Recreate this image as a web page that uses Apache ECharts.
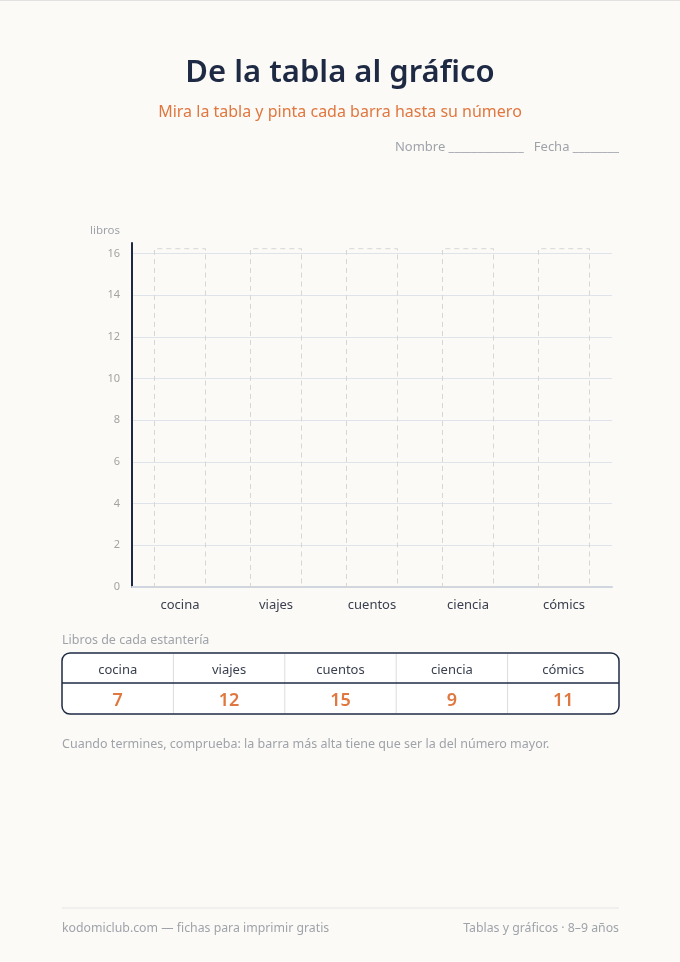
<!DOCTYPE html>
<html>
<head>
<meta charset="utf-8">
<script src="https://cdn.jsdelivr.net/npm/echarts@6/dist/echarts.min.js"></script>
<style>
html,body{margin:0;padding:0;background:#fcfaf6;}
#chart{width:680px;height:962px;}
</style>
</head>
<body>
<div id="chart"></div>
<script>
// ---- data ----
var categories = ['cocina', 'viajes', 'cuentos', 'ciencia', 'cómics'];
var tableValues = [7, 12, 15, 9, 11];
var outlineTop = [16.25, 16.25, 16.25, 16.25, 16.25]; // empty dashed bars to be coloured
var yTicks = [0, 2, 4, 6, 8, 10, 12, 14, 16];
var yMax = 16.5;

var FONT = '"Noto Sans", "Open Sans", sans-serif';
var DARK = '#1e2a44';
var ORANGE = '#e0773f';
var GREY = '#9ea3aa';

var chart = echarts.init(document.getElementById('chart'), null, {renderer: 'canvas'});

// table graphics
var tblX = 62, tblY = 653, tblW = 557, tblH = 61, hdrH = 30;
var colW = tblW / categories.length;
var graphics = [];
graphics.push({type:'rect', shape:{x:tblX, y:tblY, width:tblW, height:tblH, r:8},
  style:{fill:'#ffffff', stroke:DARK, lineWidth:1.5}, z:10});
for (var i = 1; i < categories.length; i++) {
  graphics.push({type:'line', shape:{x1:tblX + colW*i, y1:tblY+1, x2:tblX + colW*i, y2:tblY+tblH-1},
    style:{stroke:'#dcdcdc', lineWidth:1}, z:11});
}
graphics.push({type:'line', shape:{x1:tblX, y1:tblY+hdrH, x2:tblX+tblW, y2:tblY+hdrH},
  style:{stroke:DARK, lineWidth:1.5}, z:12});
categories.forEach(function(c, i){
  graphics.push({type:'text', x: tblX + colW*(i+0.5), y: tblY + hdrH/2 + 2, z:13,
    style:{text:c, fill:'#3a4050', font:'13px ' + FONT, align:'center', verticalAlign:'middle'}});
  graphics.push({type:'text', x: tblX + colW*(i+0.5), y: tblY + hdrH + (tblH-hdrH)/2 + 2, z:13,
    style:{text:String(tableValues[i]), fill:ORANGE, font:'600 18px ' + FONT, align:'center', verticalAlign:'middle'}});
});
// texts
graphics.push({type:'text', x:340, y:73, style:{text:'De la tabla al gráfico', fill:DARK, font:'600 31px ' + FONT, align:'center', verticalAlign:'middle'}});
graphics.push({type:'text', x:340, y:112, style:{text:'Mira la tabla y pinta cada barra hasta su número', fill:ORANGE, font:'16px ' + FONT, align:'center', verticalAlign:'middle'}});
graphics.push({type:'text', x:619, y:147, style:{text:'Nombre _____________   Fecha ________', fill:GREY, font:'13px ' + FONT, align:'right', verticalAlign:'middle'}});
graphics.push({type:'text', x:120, y:231, style:{text:'libros', fill:GREY, font:'11.5px ' + FONT, align:'right', verticalAlign:'middle'}});
graphics.push({type:'text', x:62, y:640, style:{text:'Libros de cada estantería', fill:GREY, font:'12.5px ' + FONT, align:'left', verticalAlign:'middle'}});
graphics.push({type:'text', x:62, y:744, style:{text:'Cuando termines, comprueba: la barra más alta tiene que ser la del número mayor.', fill:GREY, font:'12.5px ' + FONT, align:'left', verticalAlign:'middle'}});
graphics.push({type:'line', shape:{x1:62, y1:908, x2:619, y2:908}, style:{stroke:'#e4e4e4', lineWidth:1}});
graphics.push({type:'text', x:62, y:928, style:{text:'kodomiclub.com — fichas para imprimir gratis', fill:GREY, font:'12.3px ' + FONT, align:'left', verticalAlign:'middle'}});
graphics.push({type:'text', x:619, y:928, style:{text:'Tablas y gráficos · 8–9 años', fill:GREY, font:'12.3px ' + FONT, align:'right', verticalAlign:'middle'}});
graphics.push({type:'line', shape:{x1:0, y1:0.5, x2:680, y2:0.5}, style:{stroke:'#e2e2e2', lineWidth:1}});

var splitColors = yTicks.map(function(){return '#dfe4ea';});
splitColors.push('rgba(0,0,0,0)');

chart.setOption({
  backgroundColor: '#fcfaf6',
  animation: false,
  grid: {left:132, right:68, top:243, bottom:375, containLabel:false},
  xAxis: {
    type:'category', data: categories,
    axisLine:{show:true, lineStyle:{color:'#cfd6e0', width:2}},
    axisTick:{show:false},
    axisLabel:{color:'#3a4050', fontSize:13, fontFamily:FONT, margin:12},
    splitLine:{show:false}
  },
  yAxis: {
    type:'value', min:0, max:yMax, interval:2,
    axisLine:{show:true, lineStyle:{color:DARK, width:2}},
    axisTick:{show:false},
    axisLabel:{color:'#a3a3a3', fontSize:11, fontFamily:FONT, margin:12,
      formatter:function(v){ return yTicks.indexOf(v) >= 0 ? String(v) : ''; }},
    splitLine:{show:true, lineStyle:{color:splitColors, width:1}}
  },
  series: [{
    type:'bar', data: outlineTop, barWidth:52,
    itemStyle:{color:'rgba(0,0,0,0)', borderColor:'#d6d6d6', borderWidth:1, borderType:[5, 4]},
    silent:true
  }],
  graphic: graphics
});
</script>
</body>
</html>
